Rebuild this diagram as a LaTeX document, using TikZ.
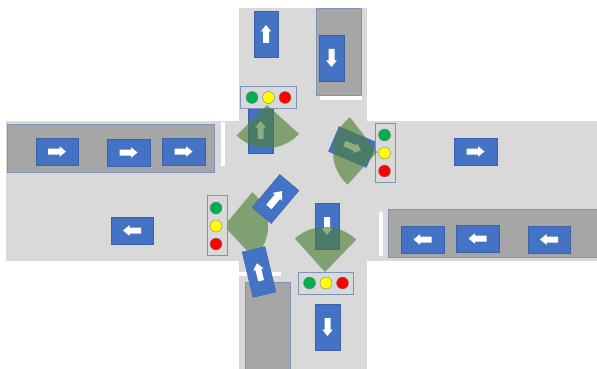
\documentclass[tikz,border=0pt]{standalone}
\definecolor{roadc}{HTML}{D9D9D9}
\definecolor{parkc}{HTML}{A6A6A6}
\definecolor{edgec}{HTML}{7F93BA}
\definecolor{carc}{HTML}{4472C4}
\definecolor{beamc}{HTML}{4F7F37}
\definecolor{lampg}{HTML}{00B050}
\definecolor{lampy}{HTML}{FFFF00}
\definecolor{lampr}{HTML}{FF0000}
\tikzset{
  road/.style={fill=roadc,draw=none},
  park/.style={fill=parkc,draw=edgec,line width=.9pt},
  bar/.style={fill=white,draw=none},
  carbody/.style={fill=carc,draw=carc!85!black,line width=.4pt},
  cararrow/.style={fill=white,draw=none},
  beam/.style={fill=beamc,fill opacity=.63,draw=none},
  lightbox/.style={fill=roadc,draw=edgec,line width=.9pt},
  lamp/.style={draw=gray,line width=.4pt},
}
% centre x, centre y, heading (0 = right, clockwise), length, width
\newcommand{\vehicle}[6][1]{%
  \begin{scope}[shift={(#2,#3)},rotate=#4]
    \path[carbody] (-#5/2,-#6/2) rectangle (#5/2,#6/2);
    \begin{scope}[scale=#1]
      \path[cararrow] (-9,-3) -- (2.5,-3) -- (2.5,-5.3) -- (9,0) -- (2.5,5.3) -- (2.5,3) -- (-9,3) -- cycle;
    \end{scope}
  \end{scope}}
% apex x, apex y, start angle, end angle, radius
\newcommand{\beamshape}[5]{%
  \path[beam] (#1,#2) -- plot[domain=#3:#4,samples=40] ({#1+#5*cos(\x)},{#2+#5*sin(\x)}) -- cycle;}
\begin{document}
\begin{tikzpicture}[yscale=-1,x=1pt,y=1pt]
\useasboundingbox (0,0) rectangle (597,369);
\fill[white] (0,0) rectangle (597,369);
% roads
\path[road] (6,121) rectangle (597,261);
\path[road] (239,8) rectangle (367,369);
% parking strips
\path[park] (7,124) rectangle (214,172);
\path[park] (388,209) rectangle (597,257);
\path[park] (316,8) rectangle (361,95);
\path[park] (245,282) rectangle (290,369);
% stop lines
\path[bar] (220.5,122) rectangle (224.5,166);
\path[bar] (320,96) rectangle (362,100);
\path[bar] (379,212) rectangle (383,256);
\path[bar] (239,272) rectangle (281,276);
% beam behind the cars
\beamshape{224}{226}{-50}{47}{44}
% cars
\vehicle{57}{151.5}{0}{42.5}{27}
\vehicle{128.5}{152.5}{0}{42.5}{27}
\vehicle{183.5}{151.5}{0}{42.5}{27}
\vehicle{132}{230.5}{180}{42.5}{27}
\vehicle{475.5}{151.5}{0}{42.5}{27}
\vehicle{422.5}{239.5}{180}{42.5}{27}
\vehicle{477.5}{238.5}{180}{42.5}{27}
\vehicle{549}{239.5}{180}{42.5}{27}
\vehicle{266}{34}{-90}{46}{24.5}
\vehicle{331.5}{58}{90}{46}{24.5}
\vehicle{327.5}{327}{90}{46}{24.5}
\vehicle{260.5}{130}{-90}{46}{24.5}
\vehicle{327}{226}{90}{46}{24.5}
\vehicle[1.15]{275.5}{199}{-50}{43}{25}
\vehicle{259}{272}{-103.5}{46.5}{23.5}
\vehicle{352.7}{147}{23}{41}{27}
% signal housings
\path[lightbox] (240,86) rectangle (296,108);
\path[lightbox] (298,272) rectangle (353,294);
\path[lightbox] (375,123) rectangle (395,182);
\path[lightbox] (207,195) rectangle (227,255);
% beams over the cars
\beamshape{267}{105}{42}{135}{43}
\beamshape{377}{152}{132}{232}{44}
\beamshape{325}{272}{228}{314}{45}
% lamps
\foreach \lx/\ly/\lc in {252/97.5/lampg,268.5/97.5/lampy,285/97.5/lampr,
  309.5/283/lampg,326/283/lampy,342.5/283/lampr,
  384.5/135/lampg,384.5/153/lampy,384.5/171/lampr,
  216/208/lampg,216/226/lampy,216/244/lampr}
  \path[lamp,fill=\lc] (\lx,\ly) circle[radius=6pt];
\end{tikzpicture}
\end{document}
